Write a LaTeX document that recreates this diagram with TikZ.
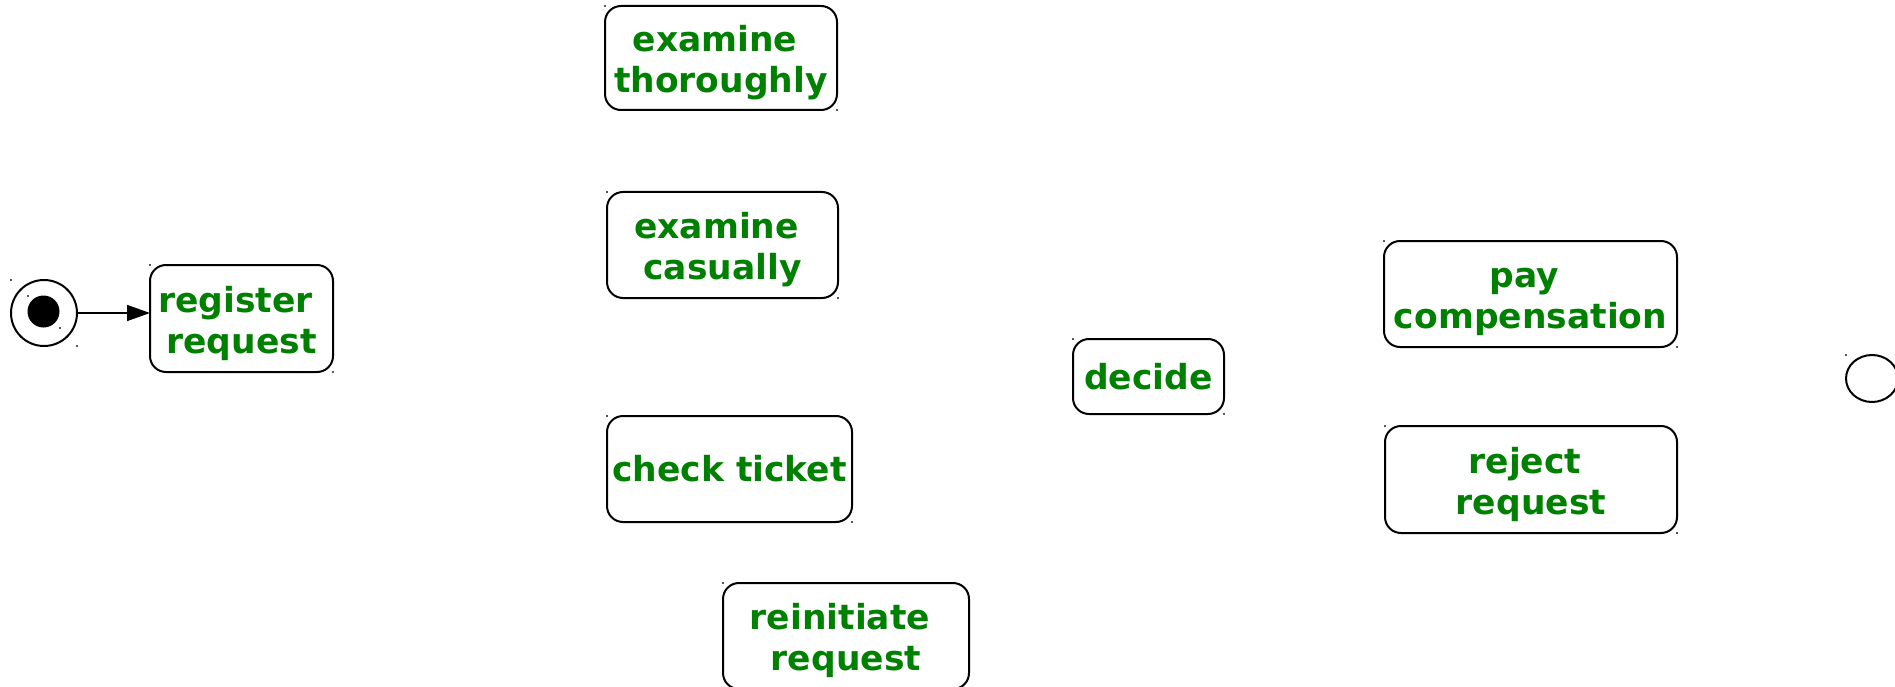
\documentclass[tikz,border=0pt]{standalone}
\usepackage{fontspec}
\newfontfamily\actfont{DejaVu Sans}
\usetikzlibrary{arrows.meta,shapes.geometric}
\definecolor{actgreen}{RGB}{0,128,0}
\newcommand\actspace{\hphantom{\ }}
\tikzset{
  activity/.style={draw=black, line width=2pt, rounded corners=16pt,
    outer sep=0pt, inner sep=0pt, align=center, text=actgreen,
    font=\actfont\bfseries\fontsize{34.5}{41}\selectfont},
  twoline/.style={text height=77pt, text depth=8pt},
  cornerdot/.style={fill=black!65},
}
\begin{document}
\begin{tikzpicture}[x=1pt,y=-1pt]
  \useasboundingbox (0,0) rectangle (1895,687);

  % initial state
  \node[circle, draw, line width=2pt, minimum size=66pt, inner sep=0pt, outer sep=0pt] (start) at (44,313) {};
  \node[circle, fill=black, minimum size=32pt, inner sep=0pt, outer sep=0pt] (startdot) at (43.5,311.5) {};

  % activities
  \node[activity, twoline, minimum width=183pt, minimum height=107pt] (register) at (241.5,318.5) {register\actspace\\request};
  \node[activity, twoline, minimum width=232pt, minimum height=104pt] (thorough) at (721,58) {examine\actspace\\thoroughly};
  \node[activity, twoline, minimum width=231pt, minimum height=106pt] (casual) at (722.5,245) {examine\actspace\\casually};
  \node[activity, minimum width=245pt, minimum height=106pt] (ticket) at (729.5,469) {check ticket};
  \node[activity, twoline, minimum width=246pt, minimum height=106pt] (reinit) at (846,636) {reinitiate\actspace\\request};
  \node[activity, minimum width=151pt, minimum height=75pt] (decide) at (1148.5,376.5) {decide};
  \node[activity, twoline, minimum width=293pt, minimum height=106pt] (pay) at (1530.5,294) {pay\actspace\\compensation};
  \node[activity, twoline, minimum width=292pt, minimum height=107pt] (reject) at (1531,479.5) {reject\actspace\\request};

  % final state
  \node[ellipse, draw, line width=2pt, minimum width=52pt, minimum height=47pt, inner sep=0pt, outer sep=0pt] (end) at (1872,378.5) {};

  % flow
  \draw[line width=1.5pt, -{Triangle[length=23pt,width=16pt]}] (start.east) -- (start.east -| register.west);

  % bounding-box corner marks
  \foreach \n in {register,thorough,casual,ticket,reinit,decide,pay,reject} {
    \fill[cornerdot] (\n.north west) ++(-1,-1) rectangle ++(2,2);
    \fill[cornerdot] (\n.south east) ++(-1,-1) rectangle ++(2,2);
  }
  \foreach \n in {start,startdot} {
    \fill[cornerdot] (\n.west |- \n.north) ++(-1,-1) rectangle ++(2,2);
    \fill[cornerdot] (\n.east |- \n.south) ++(-1,-1) rectangle ++(2,2);
  }
  \fill[cornerdot] (end.west |- end.north) ++(-1,-1) rectangle ++(2,2);
\end{tikzpicture}
\end{document}
